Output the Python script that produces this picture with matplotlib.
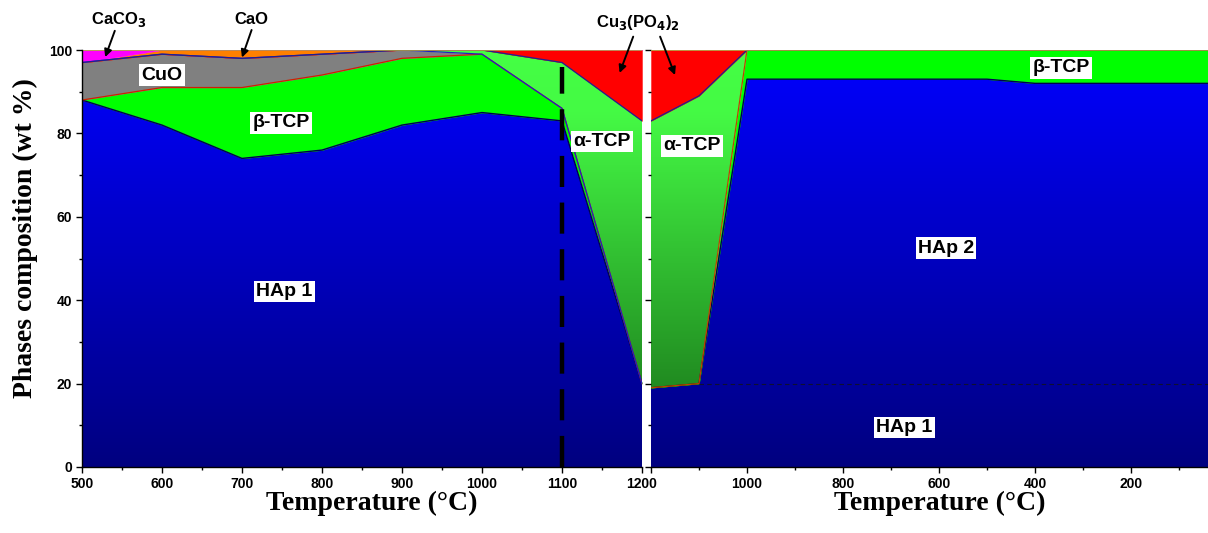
import numpy as np
import matplotlib.pyplot as plt
from matplotlib.patches import PathPatch
from matplotlib.colors import LinearSegmentedColormap
from matplotlib.ticker import MultipleLocator, FixedLocator

# heating branch, 500 -> 1200 °C (wt %)
temp_heat = [500, 600, 700, 800, 900, 1000, 1100, 1200]
hap1_heat = [88, 82, 74, 76, 82, 85, 83, 20]
btcp_heat = [0, 9, 17, 18, 16, 14, 3, 0]
cuo_heat = [9, 8, 7, 5, 2, 0, 0, 0]
atcp_heat = [0, 0, 0, 0, 0, 1, 11, 63]
cu3po4_heat = [0, 0, 0, 0, 0, 0, 3, 17]
cao_heat = [0, 1, 2, 1, 0, 0, 0, 0]
caco3_heat = [3, 0, 0, 0, 0, 0, 0, 0]

# cooling branch, 1200 -> room temperature (wt %)
temp_cool = [1200, 1100, 1000, 500, 400, 0]
hap1_cool = [19, 20, 20, 20, 20, 20]
hap2_cool = [0, 0, 73, 73, 72, 72]
btcp_cool = [0, 0, 7, 7, 8, 8]
atcp_cool = [64, 69, 0, 0, 0, 0]
cu3po4_cool = [17, 11, 0, 0, 0, 0]

sinter_temp = 1100

blue_cmap = LinearSegmentedColormap.from_list("hap", [(0, 0, 0.5), (0, 0, 1.0)])
green_cmap = LinearSegmentedColormap.from_list(
    "atcp", [(0, (0.08, 0.42, 0.08)), (0.2, (0.13, 0.55, 0.13)),
             (0.85, (0.27, 0.98, 0.27)), (1, (0.27, 1.0, 0.27))])

plt.rcParams['font.family'] = ['Liberation Sans', 'DejaVu Sans']


def flat_fill(ax, x, lo, hi, color):
    ax.fill_between(x, lo, hi, facecolor=color, edgecolor=color, lw=0.3, zorder=1)


def grad_fill(ax, x, lo, hi, cmap):
    poly = ax.fill_between(x, lo, hi, facecolor='none', edgecolor='none')
    patch = PathPatch(poly.get_paths()[0], transform=ax.transData,
                      facecolor='none', edgecolor='none')
    ax.add_patch(patch)
    grad = np.linspace(0, 1, 256).reshape(-1, 1)
    im = ax.imshow(grad, extent=[min(x), max(x), 0, 100], origin='lower',
                   cmap=cmap, aspect='auto', zorder=1, interpolation='bilinear')
    im.set_clip_path(patch)


fig = plt.figure(figsize=(12.08, 5.33), dpi=100)
W, H = 1208, 533
bottom, top = 467, 50
ax1 = fig.add_axes([82 / W, 1 - bottom / H, (642 - 82) / W, (bottom - top) / H])
ax2 = fig.add_axes([651 / W, 1 - bottom / H, (W - 651) / W, (bottom - top) / H])

# ---- left panel
t = np.array(temp_heat, dtype=float)
c1 = np.array(hap1_heat, dtype=float)
c2 = c1 + btcp_heat
c3 = c2 + cuo_heat
c4 = c3 + atcp_heat
c5 = c4 + cu3po4_heat
c6 = c5 + cao_heat
c7 = c6 + caco3_heat

grad_fill(ax1, t, 0, c1, blue_cmap)
flat_fill(ax1, t, c1, c2, '#00ff00')
flat_fill(ax1, t, c2, c3, '#808080')
grad_fill(ax1, t, c3, c4, green_cmap)
flat_fill(ax1, t, c4, c5, '#ff0000')
flat_fill(ax1, t, c5, c6, '#ff8000')
flat_fill(ax1, t, c6, c7, '#ff00ff')

ax1.plot(t, c1, color='#000050', lw=1.0, zorder=2)
ax1.plot(t, c2, color='#d02000', lw=0.9, zorder=2)
ax1.plot(t, c3, color='#2020c0', lw=0.9, zorder=2)
ax1.plot(t, c4, color='#202090', lw=0.9, zorder=2)
ax1.plot(t, c7, color='#b0a040', lw=1.2, zorder=2)

ax1.plot([sinter_temp, sinter_temp], [0, 96], color='k', lw=3.2,
         dashes=(7, 3.5), zorder=3)

ax1.set_xlim(500, 1200)
ax1.set_ylim(0, 100)
ax1.xaxis.set_major_locator(MultipleLocator(100))
ax1.xaxis.set_minor_locator(MultipleLocator(50))
ax1.yaxis.set_major_locator(MultipleLocator(20))
ax1.yaxis.set_minor_locator(MultipleLocator(10))
ax1.spines[['top', 'right']].set_visible(False)

# ---- right panel
tc = np.array(temp_cool, dtype=float)
r1 = np.array(hap1_cool, dtype=float)
r2 = r1 + hap2_cool
r3 = r2 + btcp_cool
r4 = r3 + atcp_cool
r5 = r4 + cu3po4_cool

grad_fill(ax2, tc, 0, r2, blue_cmap)
flat_fill(ax2, tc, r2, r3, '#00ff00')
grad_fill(ax2, tc, r3, r4, green_cmap)
flat_fill(ax2, tc, r4, r5, '#ff0000')

ax2.plot(tc[:2], r1[:2], color='#102010', lw=1.0, zorder=2)
ax2.plot(tc[1:], r1[1:], color='#101030', lw=0.8, ls=(0, (4, 3)), zorder=2)
ax2.plot(tc[1:], r2[1:], color='#000050', lw=1.0, zorder=2)
ax2.plot(tc, r3, color='#c04000', lw=0.9, zorder=2)
ax2.plot(tc, r4, color='#202090', lw=0.9, zorder=2)
ax2.plot(tc, r5, color='#b0a040', lw=1.2, zorder=2)

ax2.set_xlim(1200, 1200 - (W - 651) / 0.48)
ax2.set_ylim(0, 100)
ax2.xaxis.set_major_locator(FixedLocator([1200, 1000, 800, 600, 400, 200]))
ax2.xaxis.set_minor_locator(MultipleLocator(100))
ax2.set_xticklabels(['', '1000', '800', '600', '400', '200'])
ax2.yaxis.set_major_locator(MultipleLocator(20))
ax2.yaxis.set_minor_locator(MultipleLocator(10))
ax2.set_yticklabels([])
ax2.spines[['top', 'right', 'left']].set_visible(False)

for ax in (ax1, ax2):
    ax.tick_params(which='major', direction='out', length=4.5, width=1,
                   labelsize=10, pad=2.5)
    ax.tick_params(which='minor', direction='out', length=2.5, width=1)
    for lab in ax.get_xticklabels() + ax.get_yticklabels():
        lab.set_fontweight('bold')
    for s in ax.spines.values():
        s.set_linewidth(1.0)

# phase labels
box = dict(facecolor='white', edgecolor='none', pad=1.5)
lab_kw = dict(fontsize=14, fontweight='bold', ha='center', va='center',
              bbox=box, zorder=5)
ax1.text(753, 42, 'HAp 1', **lab_kw)
ax1.text(749, 82.5, 'β-TCP', **lab_kw)
ax1.text(600, 94, 'CuO', **lab_kw)
ax1.text(1150, 78, 'α-TCP', **lab_kw)
ax2.text(1115, 77, 'α-TCP', **lab_kw)
ax2.text(585, 52.5, 'HAp 2', **lab_kw)
ax2.text(672, 9.5, 'HAp 1', **lab_kw)
ax2.text(346, 95.7, 'β-TCP', **lab_kw)

# compound annotations above the frame
arrow = dict(arrowstyle='-|>', color='k', lw=1.4, mutation_scale=11,
             shrinkA=0, shrinkB=0)
ann_kw = dict(fontsize=12, fontweight='bold', ha='center', va='center')
ax1.text(546, 107.3, 'CaCO$_\\mathbf{3}$', clip_on=False, **ann_kw)
ax1.annotate('', xy=(529, 98.3), xytext=(541, 104.6), arrowprops=arrow,
             annotation_clip=False)
ax1.text(712, 107.3, 'CaO', clip_on=False, **ann_kw)
ax1.annotate('', xy=(700, 98.2), xytext=(712, 104.8), arrowprops=arrow,
             annotation_clip=False)
ax1.text(1195, 106.6, 'Cu$_\\mathbf{3}$(PO$_\\mathbf{4}$)$_\\mathbf{2}$',
         clip_on=False, **ann_kw)
ax1.annotate('', xy=(1172, 94.5), xytext=(1189, 103.2), arrowprops=arrow,
             annotation_clip=False)
ax2.annotate('', xy=(1150, 94), xytext=(1181, 103.2), arrowprops=arrow,
             annotation_clip=False)

# axis titles
title_kw = dict(family=['Liberation Serif', 'DejaVu Serif'], fontweight='bold',
                fontsize=20)
fig.text(372 / W, 1 - 503 / H, 'Temperature (°C)', ha='center', va='center',
         **title_kw)
fig.text(940 / W, 1 - 503 / H, 'Temperature (°C)', ha='center', va='center',
         **title_kw)
fig.text(25 / W, 1 - 238 / H, 'Phases composition (wt %)', rotation=90,
         ha='center', va='center', **title_kw)

fig.savefig('out.png', dpi=100)
